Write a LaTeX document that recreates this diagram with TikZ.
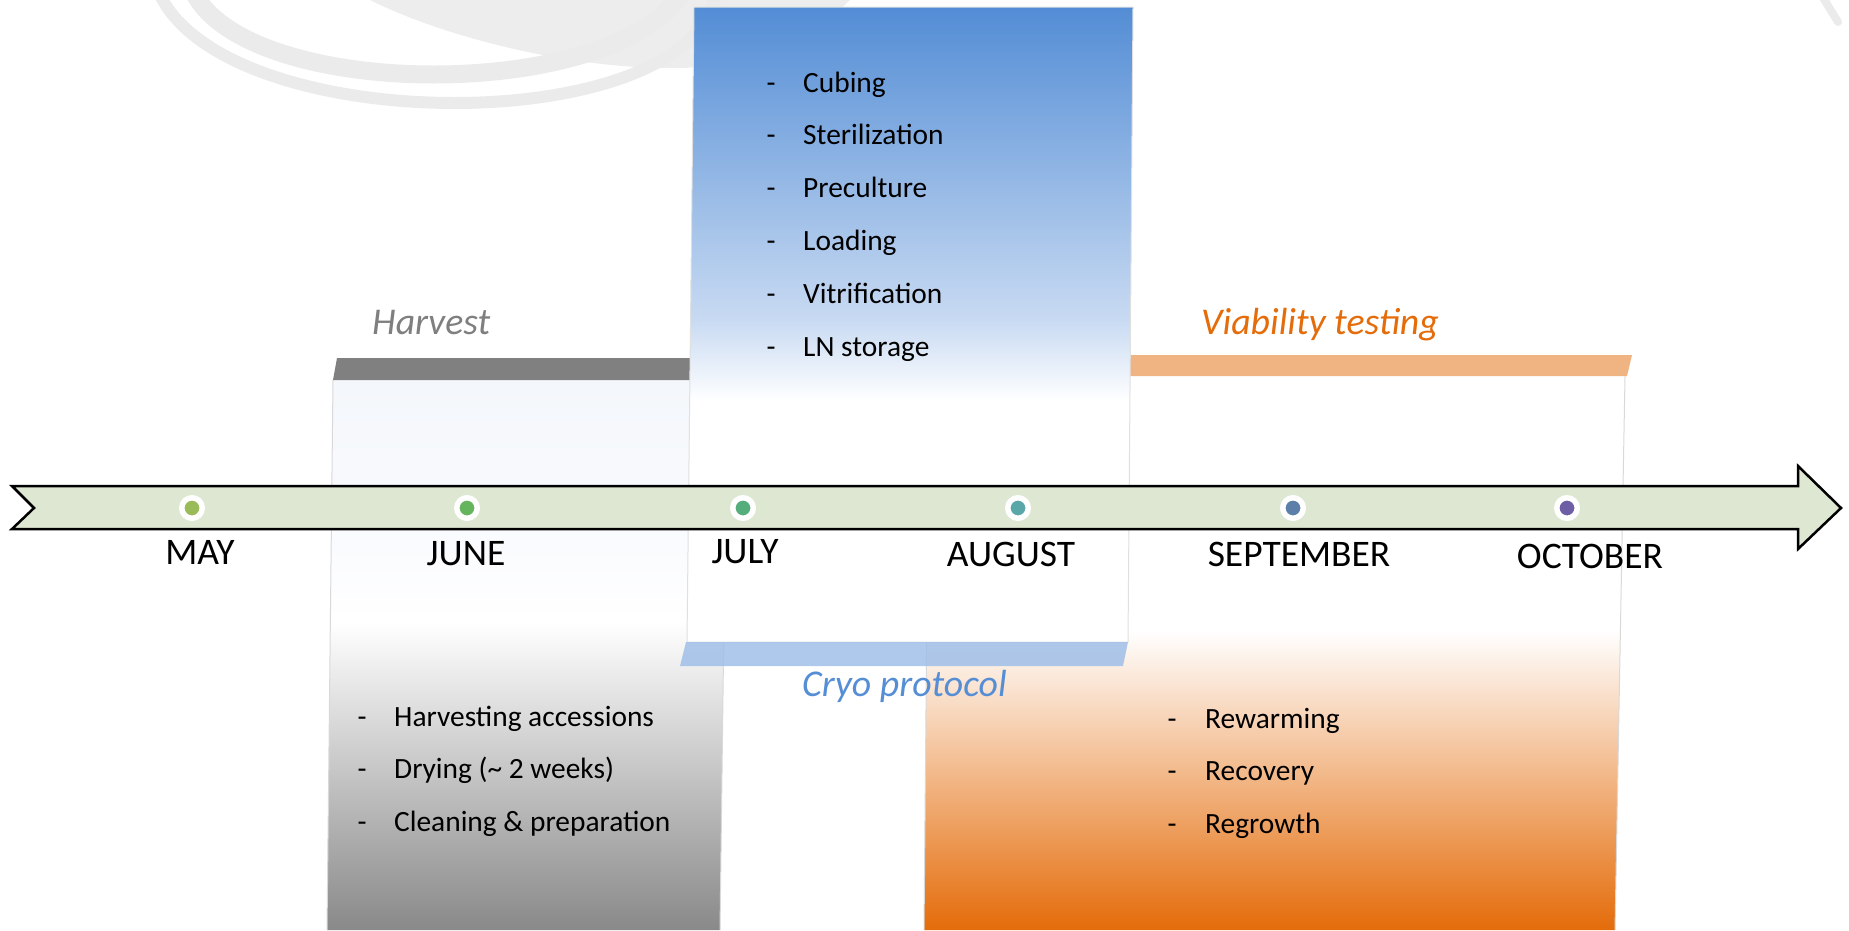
\documentclass[tikz,border=0pt]{standalone}
\usepackage{fontspec}
\setmainfont{Carlito}
\definecolor{arrowfill}{RGB}{222,231,210}
\definecolor{greybar}{RGB}{128,128,128}
\definecolor{orbar}{RGB}{240,180,131}
\definecolor{bluebar}{RGB}{160,191,232}
\definecolor{harvgrey}{RGB}{127,127,127}
\definecolor{vorange}{RGB}{228,108,10}
\definecolor{cryoblue}{RGB}{85,142,213}
\definecolor{cA}{RGB}{155,187,89}
\definecolor{cB}{RGB}{101,181,94}
\definecolor{cC}{RGB}{86,173,124}
\definecolor{cD}{RGB}{90,167,170}
\definecolor{cE}{RGB}{92,127,170}
\definecolor{cF}{RGB}{109,94,165}
\definecolor{hgreyend}{RGB}{137,137,137}
\definecolor{hpale}{RGB}{250,251,254}
\definecolor{hpaletop}{RGB}{244,247,251}
\definecolor{oend}{RGB}{228,108,10}
\definecolor{ctop}{RGB}{83,141,213}
\definecolor{cmid}{RGB}{200,218,242}
\pgfdeclareverticalshading{harvshade}{100bp}{color(0bp)=(hgreyend); color(25bp)=(hgreyend); color(53bp)=(white); color(60bp)=(hpale); color(75bp)=(hpaletop); color(100bp)=(hpaletop)}
\pgfdeclareverticalshading{orshade}{100bp}{color(0bp)=(oend); color(25bp)=(oend); color(52bp)=(white); color(100bp)=(white)}
\pgfdeclareverticalshading{cryoshade}{100bp}{color(0bp)=(white); color(44bp)=(white); color(50.4bp)=(cmid); color(75bp)=(ctop); color(100bp)=(ctop)}
\begin{document}
\begin{tikzpicture}[x=1pt,y=-1pt,
  bodyline/.style={draw=black!15, line width=1pt},
  listtext/.style={font=\fontsize{29.4}{35}\selectfont, anchor=base west, inner sep=0pt},
  listdash/.style={font=\fontsize{29.4}{35}\selectfont, anchor=base, inner sep=0pt},
  month/.style={font=\fontsize{37.5}{45}\selectfont, anchor=base, inner sep=0pt},
  ttl/.style={font=\fontsize{37.8}{45}\selectfont\itshape, anchor=base west, inner sep=0pt},
  dot/.style={circle, draw=white, line width=5.5pt, minimum size=20.5pt, inner sep=0pt},
  swirl/.style={draw=black!8, line cap=round}
]
\useasboundingbox (0,0) rectangle (1849,930);
% background swirl
\fill[black!7] (370,0) .. controls (450,40) and (580,70) .. (680,68) .. controls (760,66) and (820,30) .. (850,0) -- cycle;
\draw[swirl, line width=12pt] (160,-5) .. controls (230,139) and (690,139) .. (715,-5);
\draw[swirl, line width=18pt] (195,-5) .. controls (255,101) and (610,101) .. (680,-5);
\draw[swirl, line width=8pt] (1822,-4) -- (1838,22);
% harvest body
\shade[shading=harvshade] (333,380) -- (727,380) -- (720,930) -- (327,930) -- cycle;
\draw[bodyline] (333,380) -- (327,930);
\draw[bodyline] (727,380) -- (720,930);
% viability body
\shade[shading=orshade] (929,376) -- (1625,376) -- (1615,930) -- (924,930) -- cycle;
\draw[bodyline] (929,376) -- (924,930);
\draw[bodyline] (1625,376) -- (1615,930);
% bars
\fill[greybar] (337,358) -- (700,358) -- (700,380) -- (333,380) -- cycle;
\fill[orbar] (935,355) -- (1632,355) -- (1627,376) -- (935,376) -- cycle;
% cryo box
\shadedraw[shading=cryoshade, draw=black!12, line width=1pt] (694,7) -- (1133,7) -- (1128,642) -- (687,642) -- cycle;
\fill[bluebar, opacity=0.85] (686,642) -- (1128,642) -- (1123,666) -- (680,666) -- cycle;
% timeline arrow
\draw[fill=arrowfill, line width=2.5pt, line join=miter] (12,486) -- (1798,486) -- (1798,466) -- (1841,508) -- (1798,549) -- (1798,529) -- (12,529) -- (34,508) -- cycle;
% dots
\node[dot, fill=cA] (d1) at (192,508) {};
\node[dot, fill=cB] (d2) at (467,508) {};
\node[dot, fill=cC] (d3) at (743,508) {};
\node[dot, fill=cD] (d4) at (1018,508) {};
\node[dot, fill=cE] (d5) at (1293,508) {};
\node[dot, fill=cF] (d6) at (1567,508) {};
% months
\node[month] (may) at (200,564) {MAY};
\node[month] (jun) at (466,565) {JUNE};
\node[month] (jul) at (745,563) {JULY};
\node[month] (aug) at (1011,566) {AUGUST};
\node[month] (sep) at (1299,566) {SEPTEMBER};
\node[month] (oct) at (1590,568) {OCTOBER};
% titles
\node[ttl, text=harvgrey] (harvest) at (372,334) {Harvest};
\node[ttl, text=vorange] (viab) at (1201,334) {Viability testing};
\node[ttl, text=cryoblue] (cryo) at (802,696) {Cryo protocol};
% cryo list
\foreach \t [count=\i] in {Cubing,Sterilization,Preculture,Loading,Vitrification,LN storage}{
  \node[listdash] (cd\i) at (771,{92+52.8*(\i-1)}) {-};
  \node[listtext] (ct\i) at (803,{92+52.8*(\i-1)}) {\t};
}
% harvest list
\foreach \t [count=\i] in {Harvesting accessions,Drying (\textasciitilde{} 2 weeks),Cleaning \& preparation}{
  \node[listdash] (hd\i) at (362,{726+52.5*(\i-1)}) {-};
  \node[listtext] (ht\i) at (394,{726+52.5*(\i-1)}) {\t};
}
% viability list
\foreach \t [count=\i] in {Rewarming,Recovery,Regrowth}{
  \node[listdash] (vd\i) at (1172,{728+52.5*(\i-1)}) {-};
  \node[listtext] (vt\i) at (1205,{728+52.5*(\i-1)}) {\t};
}
\end{tikzpicture}
\end{document}
